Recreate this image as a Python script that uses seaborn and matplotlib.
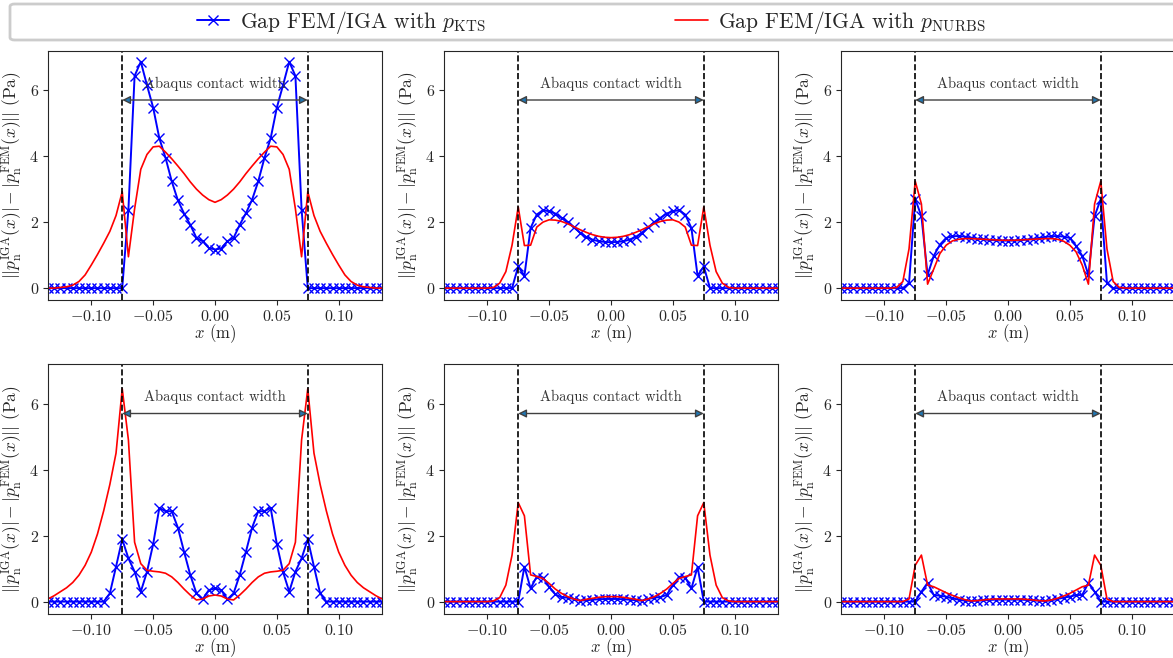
import numpy as np
import seaborn as sns
import matplotlib.pyplot as plt
from matplotlib.patches import FancyBboxPatch

# x positions of the sampling points (m)
x_pos = np.round(np.linspace(-0.135, 0.135, 55), 3)

# Gap FEM/IGA with p_KTS (blue, one list per case)
kts_1 = [0, 0, 0, 0, 0, 0, 0, 0, 0, 0, 0, 0, 0,
         2.38, 6.43, 6.86, 6.15, 5.47, 4.54, 3.95, 3.24, 2.66, 2.26, 1.92, 1.52, 1.42, 1.22,
         1.17,
         1.20, 1.42, 1.52, 1.92, 2.27, 2.68, 3.24, 3.95, 4.54, 5.47, 6.15, 6.86, 6.43, 2.38,
         0, 0, 0, 0, 0, 0, 0, 0, 0, 0, 0, 0, 0]
kts_2 = [0, 0, 0, 0, 0, 0, 0, 0, 0, 0, 0, 0,
         0.66, 0.37, 1.82, 2.23, 2.36, 2.33, 2.26, 2.13, 2.00, 1.84, 1.68, 1.55, 1.47, 1.42, 1.40,
         1.39,
         1.40, 1.42, 1.47, 1.55, 1.68, 1.84, 2.00, 2.13, 2.26, 2.33, 2.36, 2.23, 1.82, 0.37, 0.66,
         0, 0, 0, 0, 0, 0, 0, 0, 0, 0, 0, 0]
kts_3 = [0, 0, 0, 0, 0, 0, 0, 0, 0, 0, 0,
         0.15, 2.70, 2.18, 0.40, 0.98, 1.32, 1.52, 1.57, 1.58, 1.56, 1.53, 1.50, 1.48, 1.46, 1.45, 1.44,
         1.44,
         1.44, 1.45, 1.47, 1.49, 1.52, 1.55, 1.57, 1.58, 1.56, 1.52, 1.28, 0.98, 0.40, 2.18, 2.70, 0.15,
         0, 0, 0, 0, 0, 0, 0, 0, 0, 0, 0]
kts_4 = [0, 0, 0, 0, 0, 0, 0, 0, 0, 0,
         0.25, 1.06, 1.89, 1.31, 0.91, 0.30, 0.90, 1.74, 2.84, 2.74, 2.74, 2.24, 1.51, 0.81, 0.25, 0.07, 0.35,
         0.40,
         0.35, 0.07, 0.25, 0.81, 1.51, 2.24, 2.74, 2.74, 2.84, 1.74, 0.90, 0.30, 0.91, 1.31, 1.89, 1.06, 0.25,
         0, 0, 0, 0, 0, 0, 0, 0, 0, 0]
kts_5 = [0, 0, 0, 0, 0, 0, 0, 0, 0, 0, 0, 0, 0,
         1.06, 0.40, 0.76, 0.73, 0.45, 0.22, 0.13, 0.12, 0.08, 0.03, 0.04, 0.06, 0.07, 0.08,
         0.08,
         0.08, 0.07, 0.06, 0.04, 0.03, 0.08, 0.12, 0.14, 0.20, 0.50, 0.75, 0.73, 0.40, 1.05,
         0, 0, 0, 0, 0, 0, 0, 0, 0, 0, 0, 0, 0]
kts_6 = [0, 0, 0, 0, 0, 0, 0, 0, 0, 0, 0, 0, 0,
         0.30, 0.57, 0.20, 0.18, 0.15, 0.10, 0.06, 0.03, 0.02, 0.03, 0.04, 0.05, 0.06, 0.06,
         0.06,
         0.06, 0.06, 0.05, 0.04, 0.03, 0.02, 0.04, 0.08, 0.12, 0.15, 0.20, 0.20, 0.57, 0.30,
         0, 0, 0, 0, 0, 0, 0, 0, 0, 0, 0, 0, 0]

# Gap FEM/IGA with p_NURBS (red)
nurbs_1 = [0.0, 0.0, 0.02, 0.04, 0.09, 0.20, 0.40, 0.70, 1.02, 1.36, 1.72, 2.20, 2.92,
           0.95, 2.40, 3.60, 4.05, 4.28, 4.30, 4.12, 3.92, 3.70, 3.47, 3.22, 3.00, 2.82, 2.68,
           2.60,
           2.68, 2.82, 3.00, 3.22, 3.47, 3.70, 3.92, 4.12, 4.30, 4.28, 4.05, 3.60, 2.40, 0.95,
           2.92, 2.20, 1.72, 1.36, 1.02, 0.70, 0.40, 0.20, 0.09, 0.04, 0.02, 0.0, 0.0]
nurbs_2 = [0, 0, 0, 0, 0, 0, 0, 0, 0.02, 0.15, 0.50, 1.30, 2.46,
           1.29, 1.30, 1.85, 2.00, 2.07, 2.06, 2.02, 1.95, 1.86, 1.77, 1.69, 1.62, 1.57, 1.54,
           1.53,
           1.54, 1.57, 1.62, 1.69, 1.77, 1.86, 1.95, 2.02, 2.06, 2.07, 2.00, 1.85, 1.30, 1.29,
           2.46, 1.30, 0.50, 0.15, 0.02, 0, 0, 0, 0, 0, 0, 0, 0]
nurbs_3 = [0, 0, 0, 0, 0, 0, 0, 0, 0, 0.02, 0.20, 1.19, 3.24,
           2.55, 0.12, 0.58, 1.05, 1.30, 1.43, 1.48, 1.50, 1.50, 1.49, 1.48, 1.47, 1.46, 1.45,
           1.45,
           1.45, 1.46, 1.47, 1.48, 1.49, 1.50, 1.50, 1.48, 1.42, 1.30, 1.10, 0.70, 0.12, 2.55,
           3.24, 1.19, 0.20, 0.02, 0, 0, 0, 0, 0, 0, 0, 0, 0]
nurbs_4 = [0.08, 0.18, 0.30, 0.42, 0.58, 0.80, 1.10, 1.50, 2.05, 2.75, 3.55, 4.50, 6.45,
           4.90, 1.80, 1.15, 0.95, 0.92, 0.90, 0.86, 0.75, 0.58, 0.38, 0.20, 0.05, 0.08, 0.17,
           0.20,
           0.17, 0.08, 0.05, 0.20, 0.38, 0.58, 0.75, 0.86, 0.90, 0.92, 0.95, 1.15, 1.80, 4.90,
           6.45, 4.50, 3.55, 2.75, 2.05, 1.50, 1.10, 0.80, 0.58, 0.42, 0.30, 0.18, 0.08]
nurbs_5 = [0, 0, 0, 0, 0, 0, 0, 0, 0.02, 0.12, 0.50, 1.41, 3.00,
           2.60, 0.81, 0.76, 0.70, 0.55, 0.38, 0.25, 0.15, 0.08, 0.03, 0.07, 0.10, 0.13, 0.15,
           0.15,
           0.15, 0.13, 0.10, 0.07, 0.03, 0.08, 0.15, 0.25, 0.38, 0.55, 0.70, 0.76, 0.81, 2.60,
           3.00, 1.41, 0.50, 0.12, 0.02, 0, 0, 0, 0, 0, 0, 0, 0]
nurbs_6 = [0, 0, 0, 0, 0, 0, 0, 0, 0, 0, 0, 0.08, 1.10,
           1.41, 0.50, 0.45, 0.36, 0.27, 0.19, 0.12, 0.06, 0.02, 0.03, 0.05, 0.07, 0.08, 0.08,
           0.08,
           0.08, 0.08, 0.07, 0.05, 0.03, 0.02, 0.05, 0.10, 0.17, 0.25, 0.35, 0.45, 0.50, 1.41,
           1.10, 0.08, 0, 0, 0, 0, 0, 0, 0, 0, 0, 0, 0]

kts_cases = [kts_1, kts_2, kts_3, kts_4, kts_5, kts_6]
nurbs_cases = [nurbs_1, nurbs_2, nurbs_3, nurbs_4, nurbs_5, nurbs_6]

contact_half_width = 0.075
label_kts = r"Gap FEM/IGA with $p_{\mathrm{KTS}}$"
label_nurbs = r"Gap FEM/IGA with $p_{\mathrm{NURBS}}$"
ylabel = r"$||p_{\mathrm{n}}^{\mathrm{IGA}}(x)| - |p_{\mathrm{n}}^{\mathrm{FEM}}(x)||$ (Pa)"

sns.set_style("ticks")
plt.rcParams["font.family"] = "serif"
plt.rcParams["font.serif"] = ["cmr10", "DejaVu Serif"]
plt.rcParams["mathtext.fontset"] = "cm"
plt.rcParams["axes.formatter.use_mathtext"] = True
plt.rcParams["axes.edgecolor"] = "0.15"
plt.rcParams["xtick.color"] = "0.15"
plt.rcParams["ytick.color"] = "0.15"

fig = plt.figure(figsize=(11.73, 6.58), dpi=100)

W, H = 1173.0, 658.0
col_left = [48, 444, 841]
row_bottom = [300, 613.5]
ax_w, ax_h = 334, 249.5

axes = []
for r in range(2):
    for c in range(3):
        ax = fig.add_axes([col_left[c] / W, 1 - row_bottom[r] / H, ax_w / W, ax_h / H])
        axes.append(ax)

for ax, kts, nurbs in zip(axes, kts_cases, nurbs_cases):
    sns.lineplot(x=x_pos, y=kts, ax=ax, color="blue", marker="x", markersize=6.5,
                 markeredgecolor="blue", markeredgewidth=1.0, lw=1.4,
                 estimator=None, label=label_kts, legend=False)
    sns.lineplot(x=x_pos, y=nurbs, ax=ax, color="red", lw=1.2,
                 estimator=None, label=label_nurbs, legend=False)
    ax.axvline(-contact_half_width, color="k", ls="--", lw=1.2)
    ax.axvline(contact_half_width, color="k", ls="--", lw=1.2)
    ax.annotate("", xy=(-contact_half_width, 5.7), xytext=(contact_half_width, 5.7),
                arrowprops=dict(arrowstyle="<|-|>", facecolor="tab:blue", edgecolor="0.25",
                                lw=1.0, mutation_scale=12, shrinkA=0, shrinkB=0))
    ax.text(0, 6.2, "Abaqus contact width", ha="center", va="center",
            fontsize=10.5, color="0.2")
    ax.set_xlim(-0.135, 0.135)
    ax.set_ylim(-0.36, 7.2)
    ax.set_xticks([-0.10, -0.05, 0.0, 0.05, 0.10])
    ax.set_yticks([0, 2, 4, 6])
    ax.tick_params(labelsize=11.5, pad=3)
    ax.set_xlabel(r"$x$ (m)", fontsize=12, labelpad=-1)
    ax.set_ylabel(ylabel, fontsize=12.5, labelpad=4)

# legend across the top
frame = FancyBboxPatch((10 / W, 1 - 40 / H), 1.2, 36 / H,
                       boxstyle="round,pad=0,rounding_size=0.004",
                       transform=fig.transFigure, facecolor="white",
                       edgecolor="0.8", lw=2.0, zorder=0)
fig.add_artist(frame)
handles, labels = axes[0].get_legend_handles_labels()
fig.legend(handles, labels, loc="center left", bbox_to_anchor=(197 / W, 1 - 22 / H),
           ncol=2, frameon=False, fontsize=15.5, handlelength=1.5,
           handletextpad=0.5, columnspacing=8.8, borderaxespad=0, borderpad=0)

fig.savefig("out.png", dpi=100)
